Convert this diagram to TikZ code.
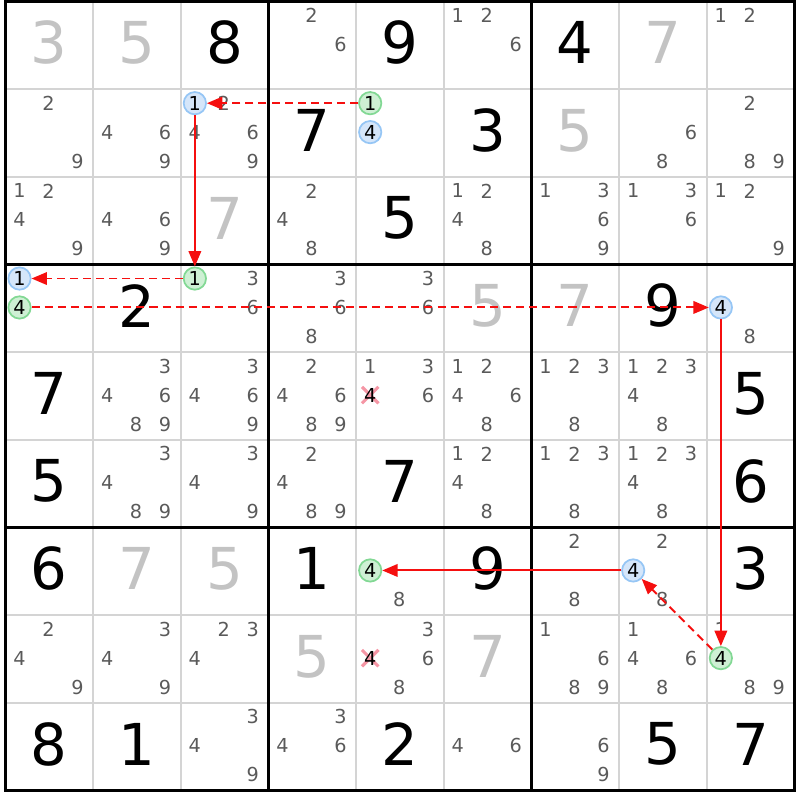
\documentclass[tikz,border=0pt]{standalone}
\usepackage{fontspec}
\setmainfont{DejaVu Sans}
\usetikzlibrary{arrows.meta}
\definecolor{palegray}{RGB}{195,195,195}
\definecolor{candgray}{RGB}{90,90,90}
\definecolor{gridgray}{RGB}{212,212,212}
\definecolor{bluefill}{RGB}{213,230,250}
\definecolor{blueline}{RGB}{150,198,245}
\definecolor{greenfill}{RGB}{206,240,212}
\definecolor{greenline}{RGB}{130,216,148}
\definecolor{linkred}{RGB}{245,15,15}
\definecolor{crosspink}{RGB}{245,150,165}
\tikzset{
  given/.style={font=\fontsize{30}{30}\selectfont, inner sep=0pt},
  pale/.style={given, text=palegray},
  cand/.style={font=\fontsize{10}{10}\selectfont, text=candgray, inner sep=0pt},
  ring/.style={cand, text=black, circle, minimum size=11.6pt, line width=0.9pt},
  bluec/.style={ring, fill=bluefill, draw=blueline},
  greenc/.style={ring, fill=greenfill, draw=greenline},
  cross/.style={draw=crosspink, line width=1.6pt},
  link/.style={draw=linkred, line width=1pt, -{Triangle[length=8pt,width=6.5pt]}},
  weak/.style={link, dash pattern=on 4.2pt off 2.6pt},
}
\begin{document}
\begin{tikzpicture}[x=1.6cm, y=-1.6cm]
  \newcommand\giv[3]{\node[given] (r#1c#2) at (#2-0.5,#1-0.53) {#3};}
  \newcommand\pal[3]{\node[pale] (r#1c#2) at (#2-0.5,#1-0.53) {#3};}
  \newcommand\cands[3]{\foreach \d in {#3}{\node[cand] (r#1c#2n\d) at ({#2-1+0.16+0.33*mod(\d-1,3)},{#1-1+0.16+0.33*div(\d-1,3)}) {\d};}}
  \newcommand\circd[4]{\node[#1] (r#2c#3n#4) at ({#3-1+0.16+0.33*mod(#4-1,3)},{#2-1+0.16+0.33*div(#4-1,3)}) {#4};}
  \newcommand\crossd[3]{\coordinate (r#1c#2x) at ({#2-1+0.16+0.33*mod(#3-1,3)},{#1-1+0.16+0.33*div(#3-1,3)});
    \draw[cross] ([shift={(-4.3pt,-4.3pt)}]r#1c#2x) -- ([shift={(4.3pt,4.3pt)}]r#1c#2x)
      ([shift={(-4.3pt,4.3pt)}]r#1c#2x) -- ([shift={(4.3pt,-4.3pt)}]r#1c#2x);
    \node[cand, text=black] (r#1c#2n#3) at (r#1c#2x) {#3};}
  \useasboundingbox (-0.0627,-0.0171) rectangle (9.0627,9.1084);

  \foreach \i in {1,2,4,5,7,8} {
    \draw[gridgray, line width=1pt] (\i,0) -- (\i,9);
    \draw[gridgray, line width=1pt] (0,\i) -- (9,\i);
  }
  \foreach \i in {3,6} {
    \draw[line width=1.6pt] (\i,0) -- (\i,9);
    \draw[line width=1.6pt] (0,\i) -- (9,\i);
  }
  \draw[line width=1.6pt] (0,0) rectangle (9,9);

  \pal{1}{1}{3} \pal{1}{2}{5} \giv{1}{3}{8} \cands{1}{4}{2,6} \giv{1}{5}{9}
  \cands{1}{6}{1,2,6} \giv{1}{7}{4} \pal{1}{8}{7} \cands{1}{9}{1,2}

  \cands{2}{1}{2,9} \cands{2}{2}{4,6,9} \cands{2}{3}{2,4,6,9} \circd{bluec}{2}{3}{1}
  \giv{2}{4}{7} \circd{greenc}{2}{5}{1} \circd{bluec}{2}{5}{4} \giv{2}{6}{3}
  \pal{2}{7}{5} \cands{2}{8}{6,8} \cands{2}{9}{2,8,9}

  \cands{3}{1}{1,2,4,9} \cands{3}{2}{4,6,9} \pal{3}{3}{7} \cands{3}{4}{2,4,8} \giv{3}{5}{5}
  \cands{3}{6}{1,2,4,8} \cands{3}{7}{1,3,6,9} \cands{3}{8}{1,3,6} \cands{3}{9}{1,2,9}

  \circd{bluec}{4}{1}{1} \circd{greenc}{4}{1}{4} \giv{4}{2}{2} \circd{greenc}{4}{3}{1}
  \cands{4}{3}{3,6} \cands{4}{4}{3,6,8} \cands{4}{5}{3,6} \pal{4}{6}{5} \pal{4}{7}{7}
  \giv{4}{8}{9} \circd{bluec}{4}{9}{4} \cands{4}{9}{8}

  \giv{5}{1}{7} \cands{5}{2}{3,4,6,8,9} \cands{5}{3}{3,4,6,9} \cands{5}{4}{2,4,6,8,9}
  \cands{5}{5}{1,3,6} \crossd{5}{5}{4} \cands{5}{6}{1,2,4,6,8} \cands{5}{7}{1,2,3,8}
  \cands{5}{8}{1,2,3,4,8} \giv{5}{9}{5}

  \giv{6}{1}{5} \cands{6}{2}{3,4,8,9} \cands{6}{3}{3,4,9} \cands{6}{4}{2,4,8,9} \giv{6}{5}{7}
  \cands{6}{6}{1,2,4,8} \cands{6}{7}{1,2,3,8} \cands{6}{8}{1,2,3,4,8} \giv{6}{9}{6}

  \giv{7}{1}{6} \pal{7}{2}{7} \pal{7}{3}{5} \giv{7}{4}{1} \circd{greenc}{7}{5}{4}
  \cands{7}{5}{8} \giv{7}{6}{9} \cands{7}{7}{2,8} \cands{7}{8}{2,8} \circd{bluec}{7}{8}{4}
  \giv{7}{9}{3}

  \cands{8}{1}{2,4,9} \cands{8}{2}{3,4,9} \cands{8}{3}{2,3,4} \pal{8}{4}{5}
  \cands{8}{5}{3,6,8} \crossd{8}{5}{4} \pal{8}{6}{7} \cands{8}{7}{1,6,8,9}
  \cands{8}{8}{1,4,6,8} \cands{8}{9}{1,8,9} \circd{greenc}{8}{9}{4}

  \giv{9}{1}{8} \giv{9}{2}{1} \cands{9}{3}{3,4,9} \cands{9}{4}{3,4,6} \giv{9}{5}{2}
  \cands{9}{6}{4,6} \cands{9}{7}{6,9} \giv{9}{8}{5} \giv{9}{9}{7}

  \draw[weak] (r2c5n1) -- (r2c3n1);
  \draw[link] (r2c3n1) -- (r4c3n1);
  \draw[weak] (r4c3n1) -- (r4c1n1);
  \draw[weak] (r4c1n4) -- (r4c9n4);
  \draw[link] (r4c9n4) -- (r8c9n4);
  \draw[weak] (r8c9n4) -- (r7c8n4);
  \draw[link] (r7c8n4) -- (r7c5n4);
\end{tikzpicture}
\end{document}
